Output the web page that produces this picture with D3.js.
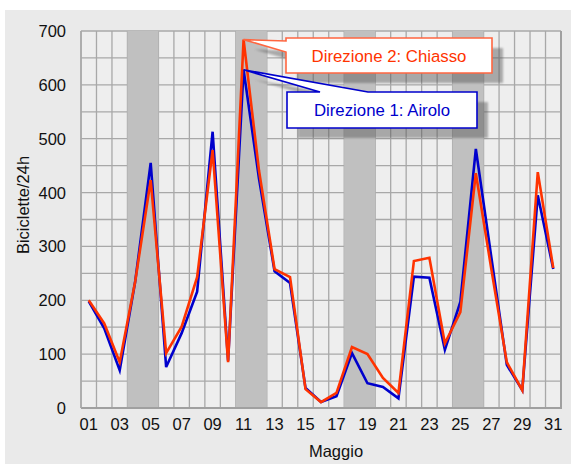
<!DOCTYPE html>
<html><head><meta charset="utf-8">
<script src="https://cdn.jsdelivr.net/npm/d3@7"></script>
<style>body{margin:0;background:#fff}svg{display:block;font-family:Arial,"Liberation Sans",sans-serif}</style>
</head><body>
<svg id="c" width="571" height="464"></svg>
<script>
const days = d3.range(1, 32);
const airolo  = [198,148,70,235,455,76,139,216,513,88,628,425,254,232,37,11,22,102,46,39,18,244,242,108,197,481,280,80,33,395,258];
const chiasso = [200,157,85,235,423,102,151,243,479,85,684,440,258,243,35,11,28,113,100,56,28,273,279,120,178,436,258,85,33,438,260];
const yTicks = [0,100,200,300,400,500,600,700];
const xTickDays = d3.range(1, 32, 2);
const weekends = [[4,5],[11,12],[18,19],[25,26]];
const labels = {a:"Direzione 1: Airolo", c:"Direzione 2: Chiasso", x:"Maggio", y:"Biciclette/24h"};

const svg = d3.select("#c");
const L=81, R=561, T=31, B=408;
svg.append("rect").attr("x",5).attr("y",10).attr("width",566).attr("height",454).attr("fill","#eaeaea");

const x = d3.scaleBand().domain(days).range([L,R]).paddingInner(0).paddingOuter(0);
const y = d3.scaleLinear().domain([0,700]).range([B,T]);
const cx = d => x(d) + x.bandwidth()/2;

svg.append("rect").attr("x",L).attr("y",T).attr("width",R-L).attr("height",B-T).attr("fill","#eeeeee");

const g = svg.append("g");
g.selectAll("line.h").data(d3.range(0,701,50)).join("line")
  .attr("x1",L).attr("x2",R).attr("y1",d=>y(d)).attr("y2",d=>y(d))
  .attr("stroke","#a8a8a8").attr("stroke-width",1.3);
g.selectAll("line.v").data(d3.range(0,32)).join("line")
  .attr("x1",i=>L+i*x.step()).attr("x2",i=>L+i*x.step()).attr("y1",T).attr("y2",B)
  .attr("stroke","#a8a8a8").attr("stroke-width",1.3);
g.selectAll("rect.w").data(weekends).join("rect")
  .attr("x",d=>x(d[0])).attr("width",d=>x(d[1])+x.bandwidth()-x(d[0]))
  .attr("y",T).attr("height",B-T).attr("fill","#c0c0c0");
svg.append("line").attr("x1",L).attr("x2",R+1).attr("y1",B).attr("y2",B).attr("stroke","#a0a0a0").attr("stroke-width",2);
svg.append("line").attr("x1",R).attr("x2",R).attr("y1",T).attr("y2",B).attr("stroke","#a0a0a0").attr("stroke-width",2);
svg.append("line").attr("x1",L).attr("x2",L).attr("y1",T).attr("y2",B).attr("stroke","#a8a8a8").attr("stroke-width",1.5);

svg.append("g").selectAll("text").data(yTicks).join("text")
  .attr("x",66).attr("y",d=>y(d)).attr("dy","0.36em").attr("text-anchor","end")
  .attr("font-size",16.5).attr("fill","#111").text(d=>d);
svg.append("g").selectAll("text").data(xTickDays).join("text")
  .attr("x",d=>cx(d)).attr("y",430).attr("text-anchor","middle")
  .attr("font-size",16.5).attr("fill","#111").text(d=>String(d).padStart(2,"0"));
svg.append("text").attr("x",336).attr("y",457).attr("text-anchor","middle").attr("font-size",16.5).attr("fill","#111").text(labels.x);
svg.append("text").attr("transform","translate(29,205) rotate(-90)").attr("text-anchor","middle").attr("font-size",16.5).attr("fill","#111").text(labels.y);

const line = arr => d3.line().x((v,i)=>cx(days[i])).y(v=>y(v))(arr);
svg.append("path").attr("d",line(airolo)).attr("fill","none").attr("stroke","#0000cc").attr("stroke-width",2.6).attr("stroke-linejoin","miter");
svg.append("path").attr("d",line(chiasso)).attr("fill","none").attr("stroke","#ff3300").attr("stroke-width",2.6).attr("stroke-linejoin","miter");

const defs = svg.append("defs");
defs.append("filter").attr("id","blur").append("feGaussianBlur").attr("stdDeviation",0.8);

function callout(tipDay, tipVal, box, wedge, color, border, text, tcx, tby){
  const tx = cx(tipDay), ty = y(tipVal);
  const [bx0,by0,bx1,by1] = box;
  let pts;
  if (wedge.side === "left") {
    pts = [[bx0,by0],[bx1,by0],[bx1,by1],[bx0,by1],[bx0,wedge.b],[tx,ty],[bx0,wedge.a]];
  } else {
    pts = [[bx0,by0],[wedge.a,by0],[tx,ty],[wedge.b,by0],[bx1,by0],[bx1,by1],[bx0,by1]];
  }
  const p = "M"+pts.map(q=>q.join(",")).join("L")+"Z";
  svg.append("path").attr("d",p).attr("transform","translate(11,10)")
    .attr("fill","#555").attr("opacity",0.45).attr("filter","url(#blur)");
  svg.append("path").attr("d",p).attr("fill","#fff").attr("stroke",border).attr("stroke-width",1.6).attr("stroke-linejoin","miter");
  svg.append("text").attr("x",tcx).attr("y",tby).attr("text-anchor","middle").attr("font-size",16.8).attr("fill",color).text(text);
}
callout(11, chiasso[10], [286,38,492,73], {side:"left",a:41,b:52}, "#ff3300", "#ff6640", labels.c, 389, 61.5);
callout(11, airolo[10], [287,92,477,128], {side:"top",a:320,b:368}, "#0000cc", "#0000cc", labels.a, 382, 115.5);
</script>
</body></html>
